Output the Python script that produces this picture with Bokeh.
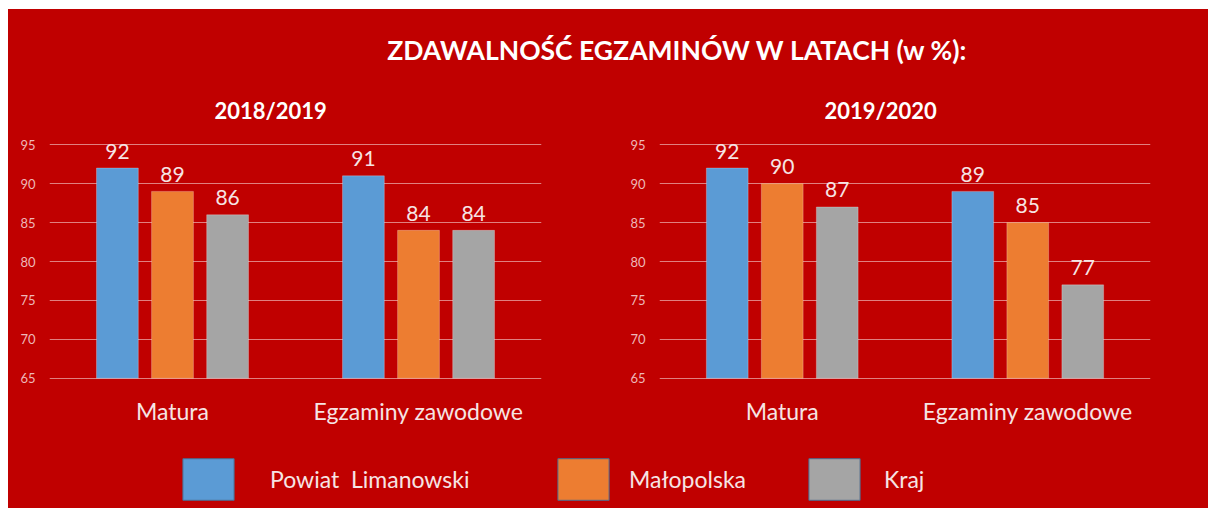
from bokeh.plotting import figure
from bokeh.models import FactorRange, Range1d, Label, Legend, LegendItem, ColumnDataSource
from bokeh.transform import dodge
from bokeh.layouts import column, row
from bokeh.embed import file_html
from bokeh.resources import INLINE
from bokeh.core.properties import value

# ---------------- data ----------------
main_title = "ZDAWALNOŚĆ EGZAMINÓW W LATACH  (w %):"
categories = ["Matura", "Egzaminy zawodowe"]
series_names = ["Powiat  Limanowski", "Małopolska", "Kraj"]
years = ["2018/2019", "2019/2020"]
powiat_2019 = [92, 91]
malopolska_2019 = [89, 84]
kraj_2019 = [86, 84]
powiat_2020 = [92, 89]
malopolska_2020 = [90, 85]
kraj_2020 = [87, 77]
y_ticks = [65, 70, 75, 80, 85, 90, 95]

# ---------------- style ----------------
BG = "#C00000"
COLORS = ["#5B9BD5", "#ED7D31", "#A5A5A5"]
FONT = "Lato"
LIGHT = "#F6E4E4"
TICK_COLOR = "#EDB8B8"
OFFSETS = [-0.224, 0.0, 0.224]
BAR_W = 0.17
PAD = 0.15


def style_fig(p):
    p.background_fill_color = None
    p.border_fill_color = BG
    p.outline_line_color = None


def make_chart(year, vals, width, top, bottom, right):
    src = ColumnDataSource(dict(
        cat=categories,
        s0=vals[0], s1=vals[1], s2=vals[2],
        l0=[str(v) for v in vals[0]],
        l1=[str(v) for v in vals[1]],
        l2=[str(v) for v in vals[2]],
    ))
    p = figure(x_range=FactorRange(*categories),
               y_range=Range1d(y_ticks[0] - PAD, y_ticks[-1] + PAD),
               width=width, height=365, output_backend="svg", toolbar_location=None,
               min_border_left=41, min_border_right=right, min_border_top=top,
               min_border_bottom=bottom, title=year)
    style_fig(p)
    p.title.align = "left"
    p.title.offset = 165
    p.title.standoff = 40
    p.title.text_font = FONT
    p.title.text_font_size = "22px"
    p.title.text_font_style = "bold"
    p.title.text_color = "white"

    for i in range(3):
        p.vbar(x=dodge("cat", OFFSETS[i], range=p.x_range), top="s%d" % i, bottom=y_ticks[0],
               width=BAR_W, source=src, fill_color=COLORS[i], line_color="white",
               line_alpha=0.25, line_width=1)
        p.text(x=dodge("cat", OFFSETS[i], range=p.x_range), y="s%d" % i, text="l%d" % i,
               source=src, text_align="center", text_baseline="alphabetic", y_offset=-17,
               text_font=value(FONT), text_font_size="21px", text_color=LIGHT)

    p.xgrid.visible = False
    p.ygrid.grid_line_color = "white"
    p.ygrid.grid_line_alpha = 0.5
    p.ygrid.grid_line_width = 1
    p.ygrid.level = "underlay"

    p.yaxis.ticker = y_ticks
    p.yaxis.axis_line_color = None
    p.yaxis.major_tick_line_color = None
    p.yaxis.minor_tick_line_color = None
    p.yaxis.major_label_text_font = FONT
    p.yaxis.major_label_text_font_size = "13px"
    p.yaxis.major_label_text_color = TICK_COLOR
    p.yaxis.major_label_standoff = 8

    p.xaxis.axis_line_color = None
    p.xaxis.major_tick_line_color = None
    p.xaxis.minor_tick_line_color = None
    p.xaxis.major_label_text_font = FONT
    p.xaxis.major_label_text_font_size = "23px"
    p.xaxis.major_label_text_color = LIGHT
    p.xaxis.major_label_standoff = 11
    return p


left = make_chart(years[0], [powiat_2019, malopolska_2019, kraj_2019], 610, 68, 59, 77)
right = make_chart(years[1], [powiat_2020, malopolska_2020, kraj_2020], 590, 70, 57, 58)

# ---------------- title ----------------
tf = figure(width=1200, height=64, x_range=Range1d(0, 1), y_range=Range1d(0, 1),
            x_axis_type=None, y_axis_type=None, min_border=0,
            output_backend="svg", toolbar_location=None)
style_fig(tf)
tf.grid.visible = False
tf.add_layout(Label(x=672, y=24, x_units="screen", y_units="screen", text=main_title,
                    text_align="center", text_baseline="middle", text_font=FONT,
                    text_font_style="bold", text_font_size="26.5px", text_color="white"))

# ---------------- legend ----------------
lf = figure(width=1200, height=70, x_range=Range1d(0, 1), y_range=Range1d(0, 1),
            x_axis_type=None, y_axis_type=None, min_border=0,
            output_backend="svg", toolbar_location=None)
style_fig(lf)
lf.grid.visible = False
legend_pos = [(168, 3, 30), (543, 3, 14), (794, 3, 18)]
for i in range(3):
    # swatch-only renderer, kept outside the visible range of this strip
    r = lf.vbar(x=[0.5], top=[-2], bottom=[-3], width=0.1, fill_color=COLORS[i],
                line_color="#4E6A8E", line_width=1)
    lg = Legend(items=[LegendItem(label=series_names[i], renderers=[r])],
                location=legend_pos[i][:2], orientation="horizontal",
                glyph_width=64, glyph_height=52, label_standoff=legend_pos[i][2],
                padding=0, margin=0, spacing=0, border_line_color=None,
                background_fill_alpha=0, label_text_font=FONT, label_text_font_size="23px",
                label_text_color=LIGHT)
    lf.add_layout(lg)

charts = row(left, right, styles={"background-color": BG})
layout = column(tf, charts, lf, styles={"background-color": BG})
layout.margin = (9, 0, 0, 8)
open("out.html", "w").write(file_html(layout, INLINE))
